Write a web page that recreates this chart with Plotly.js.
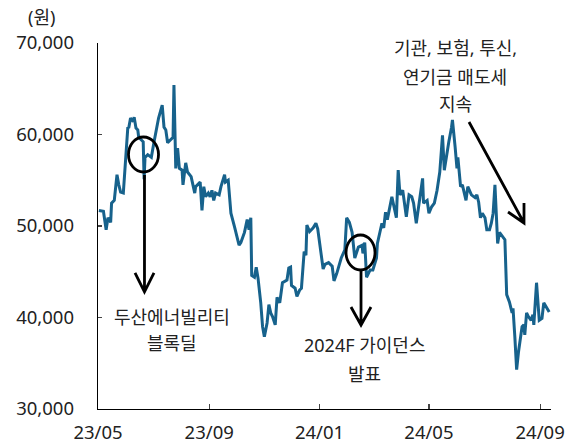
<!DOCTYPE html>
<html>
<head>
<meta charset="utf-8">
<script src="https://cdn.plot.ly/plotly-3.0.1.min.js"></script>
<style>html,body{margin:0;padding:0;background:#fff;}</style>
</head>
<body>
<div id="chart" style="width:576px;height:446px;"></div>
<script>
var dates = ['2023-05-02','2023-05-07','2023-05-10','2023-05-12','2023-05-15','2023-05-16','2023-05-19','2023-05-22','2023-05-24','2023-05-26','2023-05-29','2023-06-01','2023-06-03','2023-06-04','2023-06-06','2023-06-09','2023-06-10','2023-06-12','2023-06-14','2023-06-15','2023-06-20','2023-06-21','2023-06-22','2023-06-25','2023-06-29','2023-07-02','2023-07-04','2023-07-07','2023-07-11','2023-07-13','2023-07-15','2023-07-17','2023-07-20','2023-07-23','2023-07-24','2023-07-26','2023-07-28','2023-07-30','2023-08-02','2023-08-03','2023-08-06','2023-08-08','2023-08-12','2023-08-16','2023-08-17','2023-08-22','2023-08-24','2023-08-26','2023-08-28','2023-08-31','2023-09-02','2023-09-04','2023-09-06','2023-09-08','2023-09-12','2023-09-14','2023-09-18','2023-09-19','2023-09-22','2023-09-25','2023-09-29','2023-10-04','2023-10-06','2023-10-10','2023-10-13','2023-10-15','2023-10-17','2023-10-18','2023-10-21','2023-10-23','2023-10-25','2023-10-28','2023-10-30','2023-11-01','2023-11-04','2023-11-06','2023-11-08','2023-11-10','2023-11-13','2023-11-15','2023-11-18','2023-11-21','2023-11-26','2023-11-28','2023-11-30','2023-12-01','2023-12-05','2023-12-07','2023-12-10','2023-12-12','2023-12-15','2023-12-17','2023-12-18','2023-12-21','2023-12-25','2023-12-28','2023-12-30','2024-01-01','2024-01-05','2024-01-07','2024-01-11','2024-01-15','2024-01-17','2024-01-20','2024-01-25','2024-01-29','2024-01-31','2024-02-03','2024-02-06','2024-02-09','2024-02-11','2024-02-13','2024-02-17','2024-02-18','2024-02-20','2024-02-22','2024-02-26','2024-02-29','2024-03-04','2024-03-05','2024-03-10','2024-03-12','2024-03-14','2024-03-16','2024-03-21','2024-03-22','2024-03-26','2024-03-28','2024-03-30','2024-04-02','2024-04-04','2024-04-06','2024-04-09','2024-04-12','2024-04-14','2024-04-17','2024-04-21','2024-04-24','2024-04-25','2024-04-29','2024-05-01','2024-05-04','2024-05-07','2024-05-10','2024-05-13','2024-05-16','2024-05-18','2024-05-21','2024-05-23','2024-05-26','2024-05-27','2024-05-30','2024-06-01','2024-06-02','2024-06-05','2024-06-07','2024-06-11','2024-06-13','2024-06-17','2024-06-21','2024-06-23','2024-06-25','2024-06-27','2024-06-29','2024-07-02','2024-07-04','2024-07-07','2024-07-09','2024-07-11','2024-07-13','2024-07-15','2024-07-16','2024-07-18','2024-07-22','2024-07-24','2024-07-26','2024-07-29','2024-08-01','2024-08-02','2024-08-04','2024-08-06','2024-08-08','2024-08-12','2024-08-14','2024-08-15','2024-08-17','2024-08-19','2024-08-22','2024-08-24','2024-08-25','2024-08-28','2024-08-31','2024-09-03','2024-09-05','2024-09-08','2024-09-11'];

var prices = [51700,51600,49600,50900,50400,52500,52800,55600,54500,53700,53600,
57400,60800,60700,61800,61400,61900,60700,60500,59700,59200,
55100,57500,57800,57500,59200,60300,61800,63200,60800,60500,
59100,59400,59700,65400,56300,58500,56300,56100,54500,56900,
55900,55400,53600,54300,54800,51700,54300,53200,53600,53200,53900,
52800,53600,53400,54300,55600,54800,55000,51400,49900,47900,
48200,49300,50700,49600,50900,44600,44400,45500,44300,41600,
39000,37900,39400,41400,40500,40100,39200,42200,41600,43800,
44100,45400,45500,43500,43200,42300,43000,43200,47200,46800,
50100,49400,49800,50300,49700,48100,45300,45800,46000,45600,
44000,44800,46500,47400,50900,50400,49300,46500,47000,47700,
47900,47000,48200,44400,45200,45200,46500,48100,50300,49800,
51500,50700,53200,52800,50900,56100,53400,53900,52300,51000,
53400,53200,52500,50300,53100,55200,52500,52800,51400,52100,
52500,53900,55900,59900,56100,58100,59200,60800,61600,58600,
56300,57500,54300,54500,52800,54300,53400,53100,53400,52600,
50900,51400,50900,49600,49600,50300,51400,54500,49800,48100,
49300,48800,48500,42500,41700,40500,41000,37900,34300,36200,
39000,39200,38100,40500,40100,39700,40300,39200,43800,39700,
39900,41600,41100,40600];

var xTickVals = ['2023-05-01','2023-09-01','2024-01-01','2024-05-01','2024-09-01'];
var xTickText = ['23/05','23/09','24/01','24/05','24/09'];
var yTickVals = [30000,40000,50000,60000,70000];
var yTickText = ['30,000','40,000','50,000','60,000','70,000'];

var unitLabel = '(원)';
var noteRight = ['기관, 보험, 투신,', '연기금 매도세', '지속'];
var noteLeft = ['두산에너빌리티', '블록딜'];
var noteMid = ['2024F 가이던스', '발표'];

var FONT = 'Noto Sans, Noto Sans CJK KR, sans-serif';
var TXT = '#222';
var LINE = '#17628c';

var trace = {
  x: dates, y: prices, type: 'scatter', mode: 'lines',
  line: {color: LINE, width: 3}, hoverinfo: 'skip'
};

function ann(text, x, y) {
  return {text: text, xref: 'paper', yref: 'paper', x: x, y: y,
    xanchor: 'center', yanchor: 'middle', showarrow: false,
    font: {family: FONT, size: 18, color: TXT}};
}

var annotations = [
  ann(unitLabel, -0.1250, 1.0697),
  ann(noteRight[0], 0.7881, 0.9863),
  ann(noteRight[1], 0.7881, 0.9071),
  ann(noteRight[2], 0.7881, 0.8333),
  ann(noteLeft[0], 0.1627, 0.2527),
  ann(noteLeft[1], 0.1627, 0.1803),
  ann(noteMid[0], 0.5872, 0.1735),
  ann(noteMid[1], 0.5872, 0.0956)
];

var blk = {color: '#000', width: 2.8};
var shapes = [
  {type: 'circle', xref: 'paper', yref: 'paper', x0: 0.0673, x1: 0.1336, y0: 0.6475, y1: 0.7432, line: blk, layer: 'above'},
  {type: 'circle', xref: 'paper', yref: 'paper', x0: 0.5475, x1: 0.6115, y0: 0.3798, y1: 0.4754, line: blk, layer: 'above'},
  {type: 'path', xref: 'paper', yref: 'paper', path: 'M0.1026,0.6393 L0.1026,0.3197 M0.0817,0.3716 L0.1026,0.3197 L0.1236,0.3716', line: blk, layer: 'above'},
  {type: 'path', xref: 'paper', yref: 'paper', path: 'M0.5806,0.3770 L0.5806,0.2295 M0.5585,0.2787 L0.5806,0.2295 L0.6026,0.2787', line: blk, layer: 'above'},
  {type: 'path', xref: 'paper', yref: 'paper', path: 'M0.8190,0.7842 L0.9404,0.5082 M0.9051,0.5383 L0.9404,0.5082 L0.9404,0.5628', line: blk, layer: 'above'}
];

var layout = {
  width: 576, height: 446,
  margin: {l: 98, r: 25, t: 43, b: 37, pad: 0},
  paper_bgcolor: '#fff', plot_bgcolor: '#fff',
  showlegend: false,
  font: {family: FONT, size: 18.5, color: TXT},
  xaxis: {
    type: 'date', range: ['2023-05-01', '2024-09-13'],
    tickvals: xTickVals, ticktext: xTickText,
    showgrid: false, zeroline: false,
    showline: true, linecolor: '#000', linewidth: 1.3,
    ticks: 'inside', ticklen: 5, tickwidth: 1.2, tickcolor: '#444',
    tickfont: {family: FONT, size: 18.5, color: TXT},
    ticklabelstandoff: 6
  },
  yaxis: {
    range: [30000, 70000],
    tickvals: yTickVals, ticktext: yTickText,
    showgrid: false, zeroline: false,
    showline: true, linecolor: '#000', linewidth: 1.3,
    ticks: 'inside', ticklen: 4, tickwidth: 1.2, tickcolor: '#444',
    tickfont: {family: FONT, size: 18.5, color: TXT},
    ticklabelstandoff: 19
  },
  annotations: annotations,
  shapes: shapes
};

Plotly.newPlot('chart', [trace], layout, {staticPlot: true, displayModeBar: false});
</script>
</body>
</html>
